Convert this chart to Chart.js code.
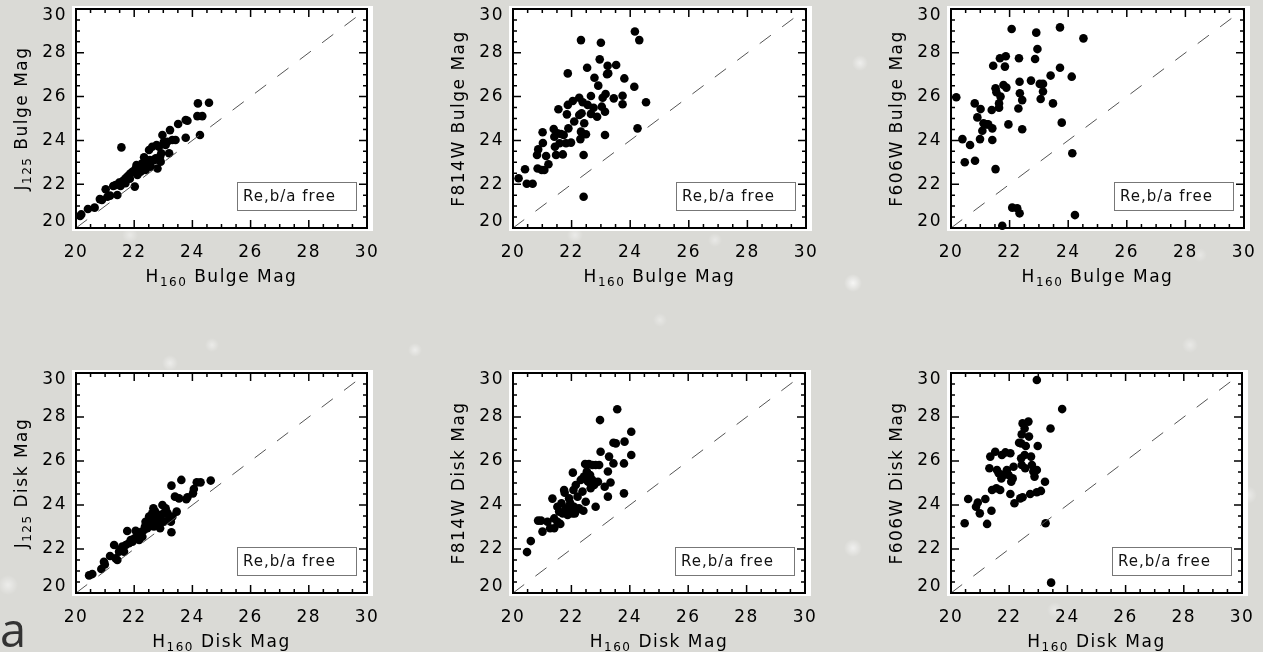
<!DOCTYPE html>
<html>
<head>
<meta charset="utf-8">
<title>Bulge and disk magnitudes</title>
<script src="https://cdn.jsdelivr.net/npm/chart.js@4.4.1/dist/chart.umd.min.js"></script>
<style>
body {
  margin: 0;
  width: 1263px;
  height: 652px;
  overflow: hidden;
  background-color: #dadad6;
  background-image:
    radial-gradient(circle at 853px 283px, rgba(255,255,255,.75), rgba(255,255,255,0) 9px),
    radial-gradient(circle at 860px 63px, rgba(255,255,255,.55), rgba(255,255,255,0) 8px),
    radial-gradient(circle at 170px 363px, rgba(255,255,255,.5), rgba(255,255,255,0) 8px),
    radial-gradient(circle at 212px 345px, rgba(255,255,255,.45), rgba(255,255,255,0) 7px),
    radial-gradient(circle at 8px 585px, rgba(255,255,255,.5), rgba(255,255,255,0) 10px),
    radial-gradient(circle at 853px 548px, rgba(255,255,255,.6), rgba(255,255,255,0) 9px),
    radial-gradient(circle at 1230px 100px, rgba(255,255,255,.45), rgba(255,255,255,0) 8px),
    radial-gradient(circle at 1248px 495px, rgba(255,255,255,.45), rgba(255,255,255,0) 9px),
    radial-gradient(circle at 1055px 610px, rgba(255,255,255,.4), rgba(255,255,255,0) 8px),
    radial-gradient(circle at 575px 235px, rgba(255,255,255,.45), rgba(255,255,255,0) 8px),
    radial-gradient(circle at 715px 240px, rgba(255,255,255,.4), rgba(255,255,255,0) 7px),
    radial-gradient(circle at 130px 235px, rgba(255,255,255,.4), rgba(255,255,255,0) 8px),
    radial-gradient(circle at 415px 350px, rgba(255,255,255,.5), rgba(255,255,255,0) 7px),
    radial-gradient(circle at 1190px 345px, rgba(255,255,255,.4), rgba(255,255,255,0) 8px),
    radial-gradient(circle at 1200px 255px, rgba(255,255,255,.35), rgba(255,255,255,0) 7px),
    radial-gradient(circle at 660px 320px, rgba(255,255,255,.35), rgba(255,255,255,0) 7px);
}
#wrap { position: relative; width: 1263px; height: 652px; }
canvas { position: absolute; }
.cut {
  position: absolute;
  left: 0;
  top: 597px;
  font: 47px "Open Sans", sans-serif;
  color: #333;
}
</style>
</head>
<body>
<div id="wrap">
  <canvas id="p1"></canvas>
  <canvas id="p2"></canvas>
  <canvas id="p3"></canvas>
  <canvas id="p4"></canvas>
  <canvas id="p5"></canvas>
  <canvas id="p6"></canvas>
  <div class="cut">a</div>
</div>
<script>
// H160 bulge magnitude vs J125 bulge magnitude
const jBulgeX = [20.14,20.18,20.41,20.64,20.82,20.89,21.02,21.08,21.17,21.28,21.42,21.56,21.36,21.48,21.53,21.59,21.65,21.71,21.76,21.82,21.88,21.94,22.02,22.05,22.08,22.13,22.20,22.28,22.34,22.36,22.43,22.39,22.51,22.57,22.62,22.68,22.74,22.77,22.80,22.89,22.91,22.97,23.02,23.08,23.14,23.20,23.23,23.31,23.42,23.51,23.77,23.83,23.77,24.19,24.57,24.17,24.34,24.26,22.11,22.22,22.47,22.54,22.93,22.85,21.70,21.85,22.00,22.30];
const jBulgeY = [20.55,20.62,20.87,20.93,21.32,21.28,21.77,21.43,21.48,21.92,21.51,23.68,21.96,22.07,21.92,22.12,22.19,22.27,22.34,22.42,22.50,22.57,21.89,22.72,22.88,22.57,22.72,22.95,23.23,22.80,23.03,22.65,23.56,22.80,23.71,23.10,23.18,23.79,22.72,23.26,23.03,24.25,23.94,23.79,23.94,23.41,24.47,24.02,24.02,24.75,24.93,24.90,24.12,25.69,25.72,25.11,25.11,24.25,22.42,22.57,22.88,23.10,23.41,23.71,22.05,22.25,22.60,22.70];

// H160 bulge magnitude vs F814W bulge magnitude
const iBulgeX = [20.19,20.41,20.47,20.67,20.82,20.86,20.84,20.98,21.02,21.01,21.07,21.13,21.21,21.39,21.41,21.43,21.47,21.52,21.55,21.59,21.64,21.70,21.73,21.81,21.87,21.84,21.87,21.89,21.98,22.04,22.09,22.26,22.26,22.32,22.32,22.30,22.34,22.38,22.41,22.41,22.43,22.49,22.55,22.53,22.66,22.66,22.78,22.75,22.87,22.91,22.96,23.00,23.03,23.06,23.14,23.14,23.16,23.21,23.23,23.25,23.44,23.52,23.74,23.74,23.80,24.16,24.31,24.14,24.25,24.54];
const iBulgeY = [22.27,22.68,22.02,22.02,23.33,23.59,22.72,22.65,23.88,24.37,22.65,23.29,22.91,24.52,24.17,23.71,23.33,24.32,25.42,23.87,24.29,23.36,24.25,23.87,27.06,25.19,25.62,24.55,23.90,25.80,24.86,25.95,25.16,28.58,24.40,24.06,25.24,25.74,21.43,23.33,24.78,24.28,25.62,27.32,25.21,26.03,26.86,25.49,25.08,26.50,27.70,28.46,25.54,25.95,24.25,25.31,26.12,27.02,27.41,27.06,25.92,27.44,26.04,25.65,26.83,28.97,28.58,26.45,24.55,25.74];

// H160 bulge magnitude vs F606W bulge magnitude
const vBulgeX = [20.18,20.39,20.47,20.65,20.82,20.81,20.90,20.99,21.01,21.07,21.11,21.21,21.27,21.39,21.41,21.41,21.44,21.52,21.52,21.55,21.64,21.64,21.67,21.69,21.75,21.79,21.84,21.87,21.89,21.96,22.07,22.09,22.26,22.34,22.30,22.32,22.34,22.35,22.43,22.43,22.73,22.87,22.91,22.95,23.03,23.14,23.14,23.06,23.40,23.48,23.72,23.72,23.78,24.12,24.14,24.23,24.52];
const vBulgeY = [25.97,24.06,23.00,23.79,23.07,25.69,25.05,24.06,25.43,24.44,24.78,24.73,24.73,25.39,24.55,24.02,27.41,22.69,26.38,26.20,25.69,25.49,27.75,26.00,20.10,26.53,27.37,27.84,26.41,24.73,29.09,20.93,20.90,20.67,25.46,27.75,26.68,26.15,25.84,24.51,26.73,27.72,28.92,28.17,26.58,26.58,26.23,25.89,26.96,25.69,29.16,27.32,24.81,26.91,23.41,20.59,28.66];

// H160 disk magnitude vs J125 disk magnitude
const jDiskX = [20.45,20.56,20.87,20.96,20.99,21.17,21.31,21.36,21.42,21.48,21.53,21.59,21.65,21.71,21.76,21.82,21.88,21.94,22.00,22.05,22.11,22.17,22.22,22.28,22.34,22.37,22.39,22.45,22.51,22.54,22.59,22.62,22.66,22.68,22.70,22.77,22.80,22.85,22.89,22.93,22.97,23.02,23.08,23.14,23.20,23.26,23.28,23.28,23.31,23.40,23.46,23.54,23.62,23.79,23.83,24.02,24.05,24.15,24.28,24.63,22.10,22.25,22.48,22.60,22.72,22.82,23.00];
const jDiskY = [20.80,20.86,21.09,21.42,21.30,21.68,22.18,21.58,21.50,21.88,21.98,22.11,21.88,22.18,22.82,22.26,22.41,22.33,22.48,22.83,22.64,22.41,22.71,22.56,22.86,23.02,23.24,22.94,23.47,23.14,23.32,23.62,23.85,23.02,23.39,23.17,23.55,23.32,22.94,23.55,24.00,23.24,23.85,23.65,23.39,23.24,22.76,24.88,23.47,24.38,23.70,24.30,25.14,24.26,24.35,24.53,24.73,25.03,25.03,25.11,22.55,22.78,23.10,23.05,23.70,23.40,23.60];

// H160 disk magnitude vs F814W disk magnitude
const iDiskX = [20.48,20.61,20.86,20.96,21.01,21.18,21.27,21.35,21.41,21.41,21.52,21.52,21.58,21.62,21.66,21.70,21.75,21.77,21.81,21.87,21.92,21.96,21.98,22.04,22.05,22.07,22.09,22.12,22.15,22.18,22.21,22.26,22.32,22.38,22.41,22.43,22.47,22.49,22.53,22.57,22.60,22.64,22.66,22.72,22.72,22.78,22.83,22.83,22.91,22.95,22.98,23.00,23.14,23.25,23.25,23.29,23.34,23.44,23.44,23.52,23.57,23.80,23.80,23.82,24.05,24.05];
const iDiskY = [21.86,22.36,23.29,23.29,22.79,23.24,22.94,24.29,22.94,23.39,23.24,23.92,23.70,23.14,24.08,23.62,24.68,24.56,23.85,23.55,24.30,24.08,23.77,23.62,25.47,24.68,23.92,23.62,24.91,23.77,24.38,23.85,25.14,24.61,23.74,25.29,25.86,24.15,25.52,25.06,25.86,25.36,24.76,25.82,25.14,24.91,23.92,25.82,25.06,25.82,27.86,26.42,24.83,24.38,25.52,26.20,25.02,25.89,26.83,26.80,28.35,24.53,25.89,26.88,27.33,26.27];

// H160 disk magnitude vs F606W disk magnitude
const vDiskX = [20.47,20.59,20.86,20.92,20.99,21.18,21.24,21.39,21.32,21.35,21.41,21.52,21.56,21.58,21.64,21.69,21.73,21.75,21.81,21.87,21.89,21.92,21.98,22.04,22.04,22.07,22.12,22.15,22.18,22.34,22.41,22.41,22.43,22.46,22.43,22.38,22.46,22.53,22.53,22.55,22.57,22.66,22.68,22.72,22.75,22.78,22.83,22.87,22.95,22.95,22.95,22.98,23.09,23.23,23.25,23.42,23.44,23.82];
const vDiskY = [23.17,24.27,23.92,24.11,23.62,24.27,23.14,23.74,25.67,26.20,24.68,26.42,24.76,25.59,25.44,24.68,25.21,26.27,25.36,26.39,25.44,25.59,25.36,26.35,24.50,25.06,25.21,25.74,24.08,26.83,26.80,26.12,27.21,27.71,25.82,24.30,24.35,27.48,26.27,25.67,26.68,27.79,27.11,24.50,26.20,25.82,25.52,25.29,29.68,24.58,25.59,26.68,24.64,25.06,23.17,27.48,20.47,28.36];

const axisTicks = [20, 22, 24, 26, 28, 30];
const fitLabel = 'Re,b/a free';

// axis titles as [main, subscript, rest]
const panels = [
  { id: 'p1', left: 76,  top: 9,   w: 291, h: 219, xs: jBulgeX, ys: jBulgeY, xTitle: ['H', '160', ' Bulge Mag'], yTitle: ['J', '125', ' Bulge Mag'] },
  { id: 'p2', left: 513, top: 9,   w: 293, h: 219, xs: iBulgeX, ys: iBulgeY, xTitle: ['H', '160', ' Bulge Mag'], yTitle: ['F814W Bulge Mag', '', ''] },
  { id: 'p3', left: 951, top: 9,   w: 293, h: 219, xs: vBulgeX, ys: vBulgeY, xTitle: ['H', '160', ' Bulge Mag'], yTitle: ['F606W Bulge Mag', '', ''] },
  { id: 'p4', left: 76,  top: 373, w: 291, h: 220, xs: jDiskX,  ys: jDiskY,  xTitle: ['H', '160', ' Disk Mag'],  yTitle: ['J', '125', ' Disk Mag'] },
  { id: 'p5', left: 513, top: 373, w: 292, h: 220, xs: iDiskX,  ys: iDiskY,  xTitle: ['H', '160', ' Disk Mag'],  yTitle: ['F814W Disk Mag', '', ''] },
  { id: 'p6', left: 951, top: 373, w: 291, h: 220, xs: vDiskX,  ys: vDiskY,  xTitle: ['H', '160', ' Disk Mag'],  yTitle: ['F606W Disk Mag', '', ''] }
];

const AXIS_W = 76, AXIS_H = 70, PAD_TOP = 9, PAD_RIGHT = 30;
const FONT = 'DejaVu Sans';

// title with a lowered subscript, centred on (0,0) of the current transform
function drawTitle(ctx, parts, baseY) {
  const big = '17px "' + FONT + '"', small = '12px "' + FONT + '"';
  ctx.font = big;
  const w0 = ctx.measureText(parts[0]).width;
  const w2 = ctx.measureText(parts[2]).width;
  ctx.font = small;
  const w1 = parts[1] ? ctx.measureText(parts[1]).width : 0;
  let x = -(w0 + w1 + w2) / 2;
  ctx.textAlign = 'left';
  ctx.textBaseline = 'alphabetic';
  ctx.font = big;
  ctx.fillText(parts[0], x, baseY);
  x += w0;
  if (parts[1]) {
    ctx.font = small;
    ctx.fillText(parts[1], x, baseY + 4);
    x += w1;
  }
  ctx.font = big;
  ctx.fillText(parts[2], x, baseY);
}

// white plot background, IDL-style frame with inward ticks, titles and the fit label box
const framePlugin = {
  id: 'frame',
  beforeDraw(chart) {
    const { ctx, chartArea: a } = chart;
    ctx.save();
    ctx.fillStyle = '#ffffff';
    ctx.fillRect(a.left - 4, a.top - 3, a.right - a.left + 10, a.bottom - a.top + 6);
    ctx.restore();
    ctx.letterSpacing = '1.5px';

    // end labels of the y axis sit a little inside the frame
    const items = chart.scales.y.getLabelItems();
    if (!items.nudged) {
      items[0].options.translation[1] -= 6;
      items[items.length - 1].options.translation[1] += 7;
      items.nudged = true;
    }
  },
  afterDatasetsDraw(chart, args, opts) {
    const { ctx, chartArea: a, scales } = chart;
    ctx.save();
    ctx.strokeStyle = '#000';
    ctx.lineWidth = 1.5;
    ctx.beginPath();
    for (let v = 20; v <= 30.001; v += 0.5) {
      const len = (v % 2 === 0) ? 8 : 4;
      const px = scales.x.getPixelForValue(v);
      const py = scales.y.getPixelForValue(v);
      ctx.moveTo(px, a.bottom); ctx.lineTo(px, a.bottom - len);
      ctx.moveTo(px, a.top);    ctx.lineTo(px, a.top + len);
      ctx.moveTo(a.left, py);   ctx.lineTo(a.left + len, py);
      ctx.moveTo(a.right, py);  ctx.lineTo(a.right - len, py);
    }
    ctx.stroke();
    ctx.lineWidth = 2;
    ctx.strokeRect(a.left, a.top, a.right - a.left, a.bottom - a.top);

    // axis titles
    ctx.fillStyle = '#000';
    ctx.letterSpacing = '1.5px';
    ctx.save();
    ctx.translate((a.left + a.right) / 2, a.bottom);
    drawTitle(ctx, opts.xTitle, 54);
    ctx.restore();
    ctx.save();
    ctx.translate(a.left - 49, (a.top + a.bottom) / 2);
    ctx.rotate(-Math.PI / 2);
    drawTitle(ctx, opts.yTitle, 0);
    ctx.restore();

    // fit label in the lower right corner
    const bw = 119, bh = 28;
    const bx = a.right - 11 - bw, by = a.bottom - 18 - bh;
    ctx.fillStyle = '#fff';
    ctx.fillRect(bx, by, bw, bh);
    ctx.strokeStyle = '#777';
    ctx.lineWidth = 1;
    ctx.strokeRect(bx + 0.5, by + 0.5, bw, bh);
    ctx.fillStyle = '#111';
    ctx.font = '15px "' + FONT + '"';
    ctx.letterSpacing = '1px';
    ctx.textBaseline = 'middle';
    ctx.textAlign = 'left';
    ctx.fillText(fitLabel, bx + 6, by + bh / 2 + 1);
    ctx.restore();
  }
};

panels.forEach(p => {
  const canvas = document.getElementById(p.id);
  canvas.width = AXIS_W + p.w + PAD_RIGHT;
  canvas.height = PAD_TOP + p.h + AXIS_H;
  canvas.style.left = (p.left - AXIS_W) + 'px';
  canvas.style.top = (p.top - PAD_TOP) + 'px';

  const points = p.xs.map((x, i) => ({ x: x, y: p.ys[i] }));

  new Chart(canvas, {
    type: 'scatter',
    data: {
      datasets: [
        {
          type: 'line',
          data: [{ x: 20, y: 20 }, { x: 30, y: 30 }],
          borderColor: '#555',
          borderWidth: 1,
          borderDash: [14, 14],
          pointRadius: 0,
          fill: false
        },
        {
          data: points,
          backgroundColor: '#000',
          borderWidth: 0,
          pointRadius: 4.3,
          clip: false
        }
      ]
    },
    options: {
      responsive: false,
      animation: false,
      devicePixelRatio: 1,
      layout: { padding: { top: PAD_TOP, right: PAD_RIGHT, left: 0, bottom: 0 } },
      plugins: {
        legend: { display: false },
        tooltip: { enabled: false },
        frame: { xTitle: p.xTitle, yTitle: p.yTitle }
      },
      scales: {
        x: {
          type: 'linear',
          min: 20,
          max: 30,
          afterBuildTicks: s => { s.ticks = axisTicks.map(v => ({ value: v })); },
          afterFit: s => { s.height = AXIS_H; s.paddingLeft = 0; s.paddingRight = 0; },
          grid: { display: false, drawTicks: false },
          border: { display: false },
          ticks: {
            color: '#000',
            font: { family: FONT, size: 17, lineHeight: 1 },
            padding: 16,
            maxRotation: 0,
            autoSkip: false
          }
        },
        y: {
          type: 'linear',
          min: 20,
          max: 30,
          afterBuildTicks: s => { s.ticks = axisTicks.map(v => ({ value: v })); },
          afterFit: s => { s.width = AXIS_W; s.paddingTop = 0; s.paddingBottom = 0; },
          grid: { display: false, drawTicks: false },
          border: { display: false },
          ticks: {
            color: '#000',
            font: { family: FONT, size: 17, lineHeight: 1 },
            padding: 9
          }
        }
      }
    },
    plugins: [framePlugin]
  });
});
</script>
</body>
</html>
